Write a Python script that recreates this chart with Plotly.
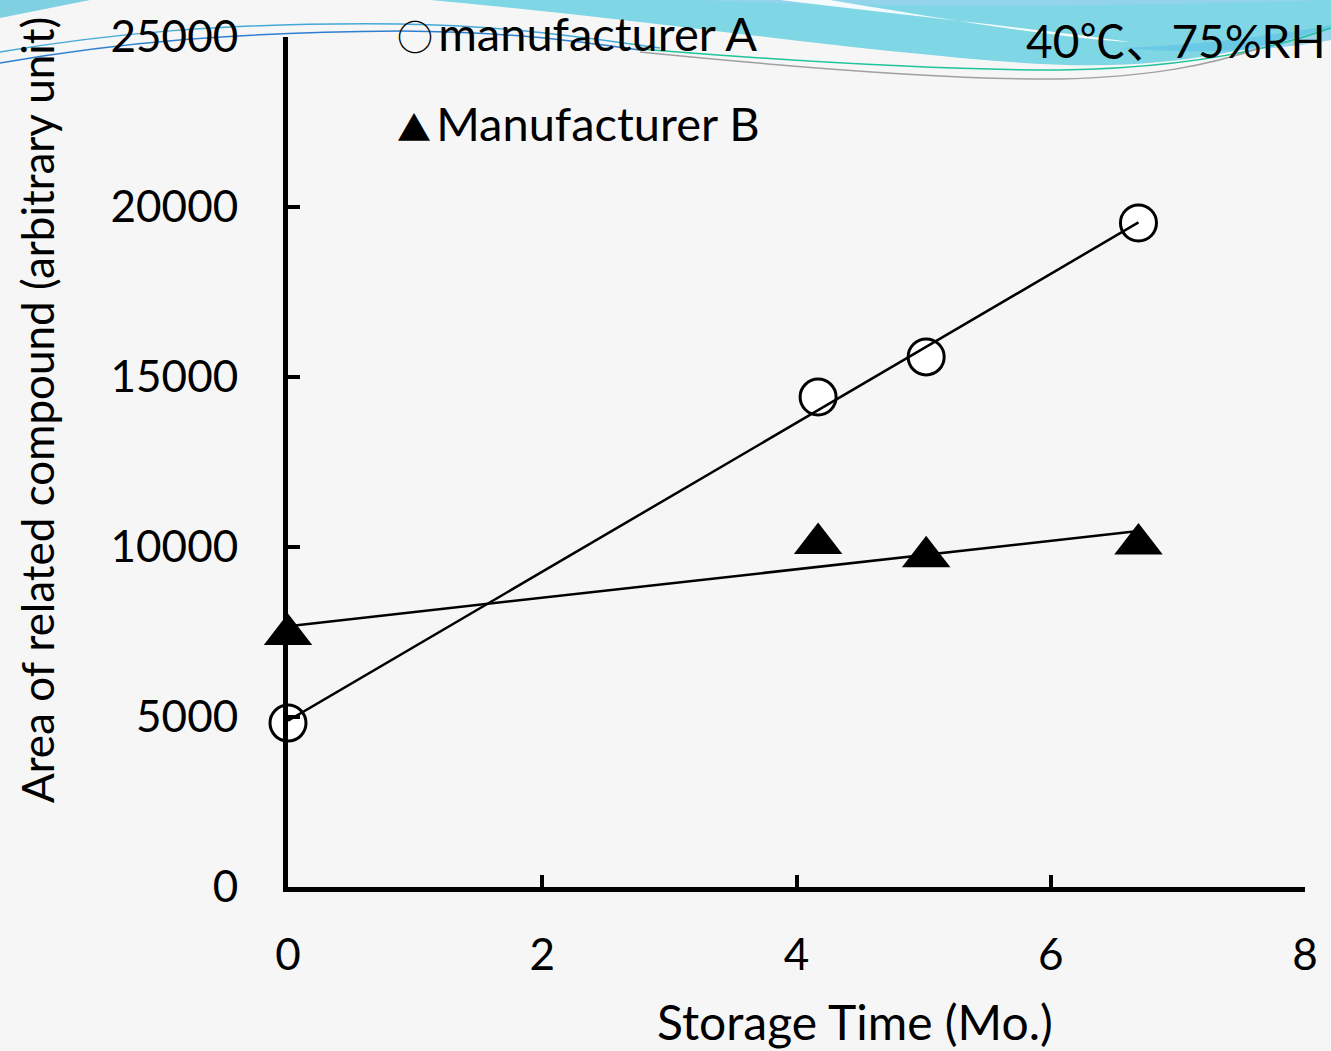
import numpy as np
import plotly.graph_objects as go

# ---- data ----
months = [0, 4.17, 5.02, 6.69]
manufacturer_a = [4820, 14410, 15590, 19530]
manufacturer_b = [7430, 10100, 9710, 10090]
x_ticks = [0, 2, 4, 6, 8]
y_ticks = [0, 5000, 10000, 15000, 20000, 25000]

FONT = "Lato, 'Noto Sans CJK JP', sans-serif"
CJK = "Noto Sans CJK JP"
BG = "#f6f6f6"

# layout geometry (pixels)
WIDTH, HEIGHT = 1331, 1051
ML, MR, MT, MB = 288, 26, 37, 164
PW = WIDTH - ML - MR
PH = HEIGHT - MT - MB


def px(x, y):
    """pixel -> paper coordinates (decoration/annotation placement only)"""
    return (x - ML) / PW, (HEIGHT - MB - y) / PH


def path(cmds):
    out = []
    for c in cmds:
        if isinstance(c, str):
            out.append(c)
        else:
            a, b = px(*c)
            out.append(f"{a:.5f},{b:.5f}")
    return " ".join(out)


fig = go.Figure()

# markers
fig.add_trace(go.Scatter(
    x=months, y=manufacturer_a, mode="markers", showlegend=False, cliponaxis=False,
    marker=dict(symbol="circle", size=36, color="white",
                line=dict(color="black", width=3)),
))
fig.add_trace(go.Scatter(
    x=months, y=manufacturer_b, mode="markers", showlegend=False, cliponaxis=False,
    marker=dict(symbol="triangle-up", size=42, color="black",
                line=dict(color="black", width=0)),
))

# linear trend lines (least squares fits of the data)
for ys in (manufacturer_a, manufacturer_b):
    k, b0 = np.polyfit(months, ys, 1)
    xs = [min(months), max(months)]
    fig.add_trace(go.Scatter(
        x=xs, y=[k * v + b0 for v in xs], mode="lines", showlegend=False,
        cliponaxis=False, line=dict(color="black", width=2.5),
    ))

# ---- decorative top banner ----
shapes = []
shapes.append(dict(type="path", xref="paper", yref="paper", layer="below",
                   path=path(["M", (0, 0), "L", (90, 0), "L", (0, 18), "Z"]),
                   fillcolor="#7fd0e0", line=dict(width=0)))
shapes.append(dict(type="path", xref="paper", yref="paper", layer="below",
                   path=path(["M", (430, 0), "C", (600, 15), (780, 40), (900, 52),
                              "C", (1000, 62), (1080, 70), (1160, 62),
                              "C", (1230, 55), (1290, 40), (1331, 28),
                              "L", (1331, 0), "Z"]),
                   fillcolor="#7fd6e4", line=dict(width=0)))
shapes.append(dict(type="path", xref="paper", yref="paper", layer="below",
                   path=path(["M", (700, 0), "C", (800, 5), (1000, 10), (1331, 0),
                              "Z"]),
                   fillcolor="#93d3ec", line=dict(width=0)))
shapes.append(dict(type="path", xref="paper", yref="paper", layer="below",
                   path=path(["M", (780, 0), "C", (900, 15), (1050, 30), (1130, 42),
                              "C", (1060, 38), (950, 20), (830, 0), "Z"]),
                   fillcolor="white", opacity=0.9, line=dict(width=0)))
shapes.append(dict(type="path", xref="paper", yref="paper", layer="below",
                   path=path(["M", (1120, 48), "C", (1200, 45), (1280, 35), (1331, 25),
                              "L", (1331, 40), "C", (1280, 50), (1200, 55), (1120, 48), "Z"]),
                   fillcolor="#5cc0e6", opacity=0.6, line=dict(width=0)))
shapes.append(dict(type="path", xref="paper", yref="paper", layer="below",
                   path=path(["M", (0, 52), "C", (100, 35), (220, 22), (400, 24),
                              "C", (520, 26), (600, 40), (660, 48)]),
                   line=dict(color="#45a9d8", width=1.5)))
shapes.append(dict(type="path", xref="paper", yref="paper", layer="below",
                   path=path(["M", (0, 63), "C", (120, 42), (240, 32), (400, 31),
                              "C", (520, 32), (580, 42), (640, 50)]),
                   line=dict(color="#2f7fd0", width=1.5)))
shapes.append(dict(type="path", xref="paper", yref="paper", layer="below",
                   path=path(["M", (640, 49), "C", (800, 62), (950, 70), (1060, 70),
                              "C", (1180, 68), (1270, 50), (1331, 28)]),
                   line=dict(color="#1fc49a", width=1.5)))
shapes.append(dict(type="path", xref="paper", yref="paper", layer="below",
                   path=path(["M", (640, 52), "C", (800, 68), (950, 80), (1060, 79),
                              "C", (1150, 77), (1210, 65), (1260, 48)]),
                   line=dict(color="#a0a0a0", width=1.5)))

annotations = []


def add_text(text, x, y, xanchor, yanchor="middle", size=44, angle=0):
    ax, ay = px(x, y)
    annotations.append(dict(text=text, x=ax, y=ay, xref="paper", yref="paper",
                            xanchor=xanchor, yanchor=yanchor, showarrow=False,
                            textangle=angle,
                            font=dict(family=FONT, size=size, color="black")))


def cjk(s, size=None):
    st = f"font-family:\"{CJK}\""
    if size:
        st += f";font-size:{size}px"
    return f"<span style='{st}'>{s}</span>"


GAP = "<span style='font-size:20px'> </span>"
add_text(cjk("○", 36) + GAP + "manufacturer A", 395, 33, "left", size=47)
add_text(cjk("▲", 34) + GAP + "Manufacturer B", 395, 123, "left", size=47)
add_text("40" + cjk("℃、") + "75%RH", 1328, 38, "right", size=46)
add_text("Storage Time (Mo.)", 855, 1021, "center", size=48)
add_text("Area of related compound (arbitrary unit)", 37, 410, "center", size=44, angle=-90)

fig.update_layout(
    width=WIDTH, height=HEIGHT,
    margin=dict(l=ML, r=MR, t=MT, b=MB, autoexpand=False),
    paper_bgcolor=BG, plot_bgcolor=BG,
    font=dict(family=FONT, size=44, color="black"),
    shapes=shapes, annotations=annotations,
    showlegend=False,
)
fig.update_xaxes(
    range=[0, 8], tickvals=x_ticks, ticktext=[str(v) for v in x_ticks],
    showgrid=False, zeroline=False,
    showline=True, linecolor="black", linewidth=5,
    ticks="inside", ticklen=12, tickwidth=4, tickcolor="black",
    ticklabelstandoff=25,
    tickfont=dict(family=FONT, size=44, color="black"),
)
fig.update_yaxes(
    range=[0, 25000], tickvals=y_ticks, ticktext=[str(v) for v in y_ticks],
    showgrid=False, zeroline=False,
    showline=True, linecolor="black", linewidth=5,
    ticks="inside", ticklen=12, tickwidth=4, tickcolor="black",
    ticklabelstandoff=36,
    tickfont=dict(family=FONT, size=44, color="black"),
)

fig.write_html("out.html", config={"displayModeBar": False},
               post_script="document.body.style.margin='0';document.body.style.overflow='hidden';")
